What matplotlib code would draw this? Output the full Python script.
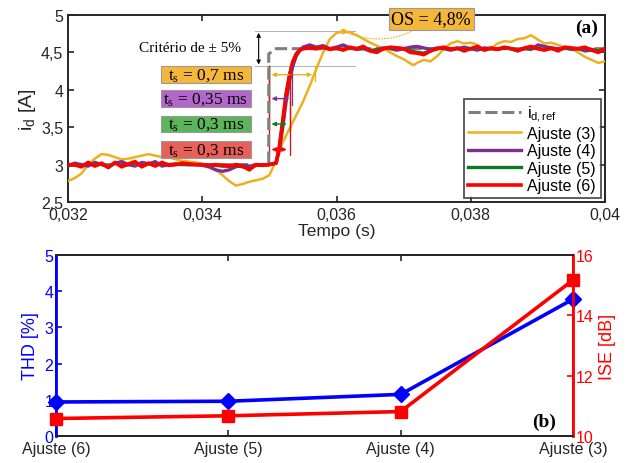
import numpy as np
import matplotlib.pyplot as plt
from matplotlib.patches import Rectangle

plt.rcParams['font.family'] = ['Liberation Sans', 'DejaVu Sans']
plt.rcParams['mathtext.fontset'] = 'stix'

# ---- (a) resposta de i_d ----
t_ref = [0.0320, 0.03499, 0.03499, 0.03510, 0.0400]
i_ref = [3.00, 3.00, 4.48, 4.55, 4.55]

t_low = [0.0320, 0.0321, 0.0322, 0.0323, 0.0324, 0.0325, 0.0326, 0.0327, 0.0328, 0.0329,
         0.0330, 0.0331, 0.0332, 0.0333, 0.0334, 0.0335, 0.0336, 0.0337, 0.0338, 0.0339,
         0.0340, 0.0341, 0.0342, 0.0343, 0.0344, 0.0345, 0.0346, 0.0347, 0.0348, 0.0349,
         0.0350]
t_rise = [0.03510, 0.03515, 0.03520, 0.03525, 0.03530, 0.03535, 0.03540, 0.03545, 0.03550]
t_high = [0.0356, 0.0357, 0.0358, 0.0359, 0.0360, 0.0361, 0.0362, 0.0363, 0.0364, 0.0365,
          0.0366, 0.0367, 0.0368, 0.0369, 0.0370, 0.0371, 0.0372, 0.0373, 0.0374, 0.0375,
          0.0376, 0.0377, 0.0378, 0.0379, 0.0380, 0.0381, 0.0382, 0.0383, 0.0384, 0.0385,
          0.0386, 0.0387, 0.0388, 0.0389, 0.0390, 0.0391, 0.0392, 0.0393, 0.0394, 0.0395,
          0.0396, 0.0397, 0.0398, 0.0399, 0.0400]
t_aj = t_low + t_rise + t_high

aj6 = [3.00, 3.00, 2.97, 3.03, 2.98, 3.02, 2.96, 3.03, 2.97, 3.01,
       3.04, 2.97, 3.02, 2.98, 3.03, 2.99, 3.00, 3.02, 3.01, 3.00,
       3.00, 2.99, 3.00, 2.99, 2.98, 3.00, 2.98, 2.93, 3.00, 2.99,
       3.00,
       3.02, 3.25, 3.60, 3.95, 4.20, 4.38, 4.48, 4.53, 4.55,
       4.56, 4.55, 4.57, 4.54, 4.56, 4.53, 4.57, 4.55, 4.58, 4.52,
       4.50, 4.55, 4.57, 4.56, 4.55, 4.50, 4.49, 4.47, 4.52, 4.55,
       4.57, 4.54, 4.56, 4.52, 4.55, 4.58, 4.53, 4.56, 4.54, 4.57,
       4.55, 4.52, 4.56, 4.58, 4.55, 4.53, 4.56, 4.52, 4.57, 4.56,
       4.55, 4.57, 4.53, 4.50, 4.55]
aj5 = [3.00, 2.99, 2.98, 3.02, 2.99, 3.01, 2.97, 3.02, 2.98, 3.00,
       3.03, 2.98, 3.01, 2.99, 3.02, 3.00, 3.00, 3.01, 3.00, 3.00,
       3.00, 2.99, 2.99, 2.98, 2.98, 2.99, 2.97, 2.95, 2.99, 2.99,
       3.00,
       3.02, 3.24, 3.58, 3.93, 4.19, 4.37, 4.47, 4.53, 4.55,
       4.56, 4.56, 4.56, 4.55, 4.55, 4.54, 4.56, 4.55, 4.57, 4.53,
       4.52, 4.55, 4.56, 4.56, 4.55, 4.52, 4.50, 4.49, 4.52, 4.55,
       4.56, 4.55, 4.55, 4.53, 4.55, 4.57, 4.54, 4.55, 4.55, 4.56,
       4.55, 4.53, 4.55, 4.57, 4.55, 4.54, 4.55, 4.53, 4.56, 4.55,
       4.55, 4.56, 4.54, 4.52, 4.55]
aj4 = [2.98, 3.02, 3.00, 2.98, 3.03, 3.00, 2.97, 3.02, 3.04, 3.00,
       2.98, 3.03, 3.01, 3.04, 2.98, 3.00, 3.01, 3.00, 3.00, 3.00,
       2.99, 2.97, 2.93, 2.91, 2.93, 2.97, 2.99, 2.98, 2.99, 3.00,
       3.00,
       3.02, 3.20, 3.50, 3.85, 4.12, 4.32, 4.45, 4.52, 4.57,
       4.60, 4.57, 4.59, 4.55, 4.57, 4.60, 4.56, 4.54, 4.55, 4.52,
       4.54, 4.56, 4.55, 4.53, 4.55, 4.57, 4.58, 4.56, 4.54, 4.56,
       4.55, 4.53, 4.55, 4.57, 4.55, 4.53, 4.56, 4.55, 4.54, 4.56,
       4.55, 4.53, 4.55, 4.54, 4.60, 4.58, 4.56, 4.55, 4.56, 4.54,
       4.55, 4.52, 4.53, 4.52, 4.52]

t_aj3 = [0.0320, 0.0321, 0.0322, 0.0323, 0.0324, 0.0325, 0.0326, 0.0327, 0.0328, 0.0329,
         0.0330, 0.0331, 0.0332, 0.0333, 0.0334, 0.0335, 0.0336, 0.0337, 0.0338, 0.0339,
         0.0340, 0.0341, 0.0342, 0.0343, 0.0344, 0.0345, 0.0346, 0.0347, 0.0348, 0.0349,
         0.0350, 0.0351, 0.0352, 0.0353, 0.0354, 0.0355, 0.0356, 0.0357, 0.0358, 0.0359,
         0.0360, 0.0361, 0.0362, 0.0363, 0.0364, 0.0365, 0.0366, 0.0367, 0.0368, 0.0369,
         0.0370, 0.0371, 0.03715, 0.0372, 0.0373, 0.0374, 0.0375, 0.0376, 0.0377, 0.0378,
         0.0379, 0.0380, 0.0381, 0.0382, 0.0383, 0.0384, 0.0385, 0.0386, 0.0387, 0.0388,
         0.0389, 0.0390, 0.0391, 0.0392, 0.0393, 0.0394, 0.0395, 0.0396, 0.0397, 0.0398,
         0.0399, 0.0400]
aj3 = [2.78, 2.82, 2.88, 3.00, 3.08, 3.14, 3.13, 3.10, 3.07, 3.08,
       3.10, 3.12, 3.14, 3.12, 3.10, 3.10, 3.07, 3.05, 3.04, 3.03,
       3.01, 2.98, 2.93, 2.86, 2.78, 2.72, 2.74, 2.77, 2.79, 2.81,
       2.86, 3.05, 3.30, 3.48, 3.66, 3.84, 4.05, 4.28, 4.50, 4.68,
       4.76, 4.78, 4.77, 4.73, 4.68, 4.63, 4.59, 4.55, 4.50, 4.45,
       4.41, 4.35, 4.33, 4.36, 4.40, 4.38, 4.45, 4.55, 4.62, 4.65,
       4.62, 4.63, 4.60, 4.52, 4.55, 4.62, 4.65, 4.64, 4.68, 4.69,
       4.73, 4.67, 4.62, 4.63, 4.60, 4.57, 4.55, 4.50, 4.44, 4.40,
       4.36, 4.38]

# ---- (b) THD e ISE ----
ajustes = ['Ajuste (6)', 'Ajuste (5)', 'Ajuste (4)', 'Ajuste (3)']
thd = [0.94, 0.96, 1.15, 3.78]
ise = [10.58, 10.67, 10.81, 15.17]

c_ref = '#808080'
c3 = '#EDB120'
c4 = '#7E2F8E'
c5 = '#0B7A1E'
c6 = '#FF0000'

fig = plt.figure(figsize=(6.38, 4.64), dpi=100)
ax1 = fig.add_axes([0.1066, 0.5625, 0.8417, 0.403])

ax1.plot(t_ref, i_ref, '--', color=c_ref, lw=2.2, dashes=(4, 1.5), label=r'$\mathregular{i_{d,ref}}$', zorder=3)
ax1.plot(t_aj3, aj3, color=c3, lw=1.8, label='Ajuste (3)', zorder=4)
ax1.plot(t_aj, aj4, color=c4, lw=2.4, label='Ajuste (4)', zorder=5)
ax1.plot(t_aj, aj5, color=c5, lw=2.4, label='Ajuste (5)', zorder=6)
ax1.plot(t_aj, aj6, color=c6, lw=2.6, label='Ajuste (6)', zorder=7)

ax1.set_xlim(0.032, 0.040)
ax1.set_ylim(2.5, 5)
ax1.set_xticks([0.032, 0.034, 0.036, 0.038, 0.040])
ax1.set_xticklabels(['0,032', '0,034', '0,036', '0,038', '0,04'])
ax1.set_yticks([2.5, 3, 3.5, 4, 4.5, 5])
ax1.set_yticklabels(['2,5', '3', '3,5', '4', '4,5', '5'])
ax1.tick_params(direction='in', top=True, right=True, labelsize=11.5, length=4, width=1.2, colors='#262626')
ax1.set_xlabel('Tempo (s)', fontsize=12.5, labelpad=1, color='#262626')
ax1.set_ylabel(r'$\mathregular{i_d}$ [A]', fontsize=14, labelpad=2, color='#262626')
for s in ax1.spines.values():
    s.set_linewidth(1.4)
    s.set_color('#262626')

# criterio de +-5%
ax1.plot([0.03478, 0.03627], [4.78, 4.78], color='#b0b0b0', lw=0.7, zorder=2)
ax1.plot([0.03478, 0.03627], [4.32, 4.32], color='#b0b0b0', lw=0.7, zorder=2)
ax1.annotate('', xy=(0.03484, 4.80), xytext=(0.03484, 4.30),
             arrowprops=dict(arrowstyle='<|-|>', color='black', lw=0.8, mutation_scale=6))
ax1.text(0.03382, 4.56, 'Critério de ± 5%', fontsize=11, family='Liberation Serif',
         ha='center', va='center')

# caixas de t_s
boxes = [(4.09, c3, '#F5B73B', '0,7 ms', 0.03568),
         (3.77, c4, '#B367CC', '0,35 ms', 0.03534),
         (3.43, c5, '#5BB55B', '0,3 ms', 0.03530),
         (3.09, c6, '#E8605A', '0,3 ms', 0.03530)]
for yb, cl, cf, txt, tend in boxes:
    ax1.add_patch(Rectangle((0.03338, yb), 0.00135, 0.225, facecolor=cf,
                            edgecolor='#999999', lw=0.8, zorder=9))
    ax1.text(0.03338 + 0.000675, yb + 0.112, r'$\mathregular{t_s}$ = ' + txt, fontsize=12.5,
             family='Liberation Serif', ha='center', va='center', zorder=10)
    ya = yb + 0.112
    ax1.annotate('', xy=(0.03499, ya), xytext=(tend, ya),
                 arrowprops=dict(arrowstyle='<|-|>', color=cl, lw=1.0, mutation_scale=6), zorder=8)
    ax1.plot([tend, tend], [4.32, ya - 0.08], color=cl, lw=0.9, zorder=8)
    ax1.plot([0.03499, 0.03499], [4.32, ya - 0.08], color=cl, lw=0.9, zorder=2.5)

# overshoot
ax1.plot([0.0361], [4.78], 'o', color=c3, ms=3, zorder=8)
ax1.annotate('OS = 4,8%', xy=(0.0361, 4.78), xytext=(0.03741, 4.95), fontsize=13,
             family='Liberation Serif', ha='center', va='center', annotation_clip=False,
             bbox=dict(boxstyle='square,pad=0.15', fc='#F5B73B', ec='#999999', lw=0.8),
             arrowprops=dict(arrowstyle='-', color=c3, lw=0.8, ls=':',
                             connectionstyle='arc3,rad=-0.3'), zorder=10)
ax1.text(0.0399, 4.83, '(a)', fontsize=14, family='Liberation Serif', fontweight='bold',
         ha='right', va='center')

leg = ax1.legend(loc='lower right', fontsize=11.5, handlelength=3.3, frameon=True,
                 fancybox=False, edgecolor='#262626', borderaxespad=0.25,
                 labelspacing=0.15, handletextpad=0.4, borderpad=0.3)
leg.get_frame().set_linewidth(1.3)
leg.set_zorder(20)

# ---- (b) ----
ax2 = fig.add_axes([0.0878, 0.0582, 0.8103, 0.390])
ax3 = ax2.twinx()
x = np.arange(len(ajustes))
ax2.plot(x, thd, color='#0000FF', lw=2.6, marker='D', ms=8, clip_on=False, zorder=5)
ax3.plot(x, ise, color='#FF0000', lw=2.6, marker='s', ms=8, clip_on=False, zorder=5)

ax2.set_xlim(0, 3)
ax2.set_ylim(0, 5)
ax3.set_ylim(10, 16)
ax2.set_xticks(x)
ax2.set_xticklabels(ajustes)
ax2.set_yticks([0, 1, 2, 3, 4, 5])
ax3.set_yticks([10, 12, 14, 16])
ax2.tick_params(axis='x', direction='in', top=True, labelsize=11.5, length=4, width=1.2,
                colors='#262626')
ax2.tick_params(axis='y', direction='in', labelsize=11.5, length=4, width=1.2,
                colors='#0000FF', pad=2)
ax3.tick_params(axis='y', direction='in', labelsize=11.5, length=4, width=1.2,
                colors='#FF0000', pad=2)
ax2.set_ylabel('THD [%]', fontsize=13, color='#0000FF', labelpad=4)
ax3.set_ylabel('ISE [dB]', fontsize=13, color='#FF0000', rotation=90, labelpad=4)
for a in (ax2, ax3):
    for s in a.spines.values():
        s.set_linewidth(1.4)
        s.set_color('#262626')
    a.spines['left'].set_color('#0000FF')
    a.spines['right'].set_color('#FF0000')
ax2.spines['left'].set_linewidth(2)
ax3.spines['right'].set_linewidth(2)
ax3.text(2.9, 10.5, '(b)', fontsize=14, family='Liberation Serif', fontweight='bold',
         ha='right', va='center')

fig.savefig('out.png', dpi=100)
